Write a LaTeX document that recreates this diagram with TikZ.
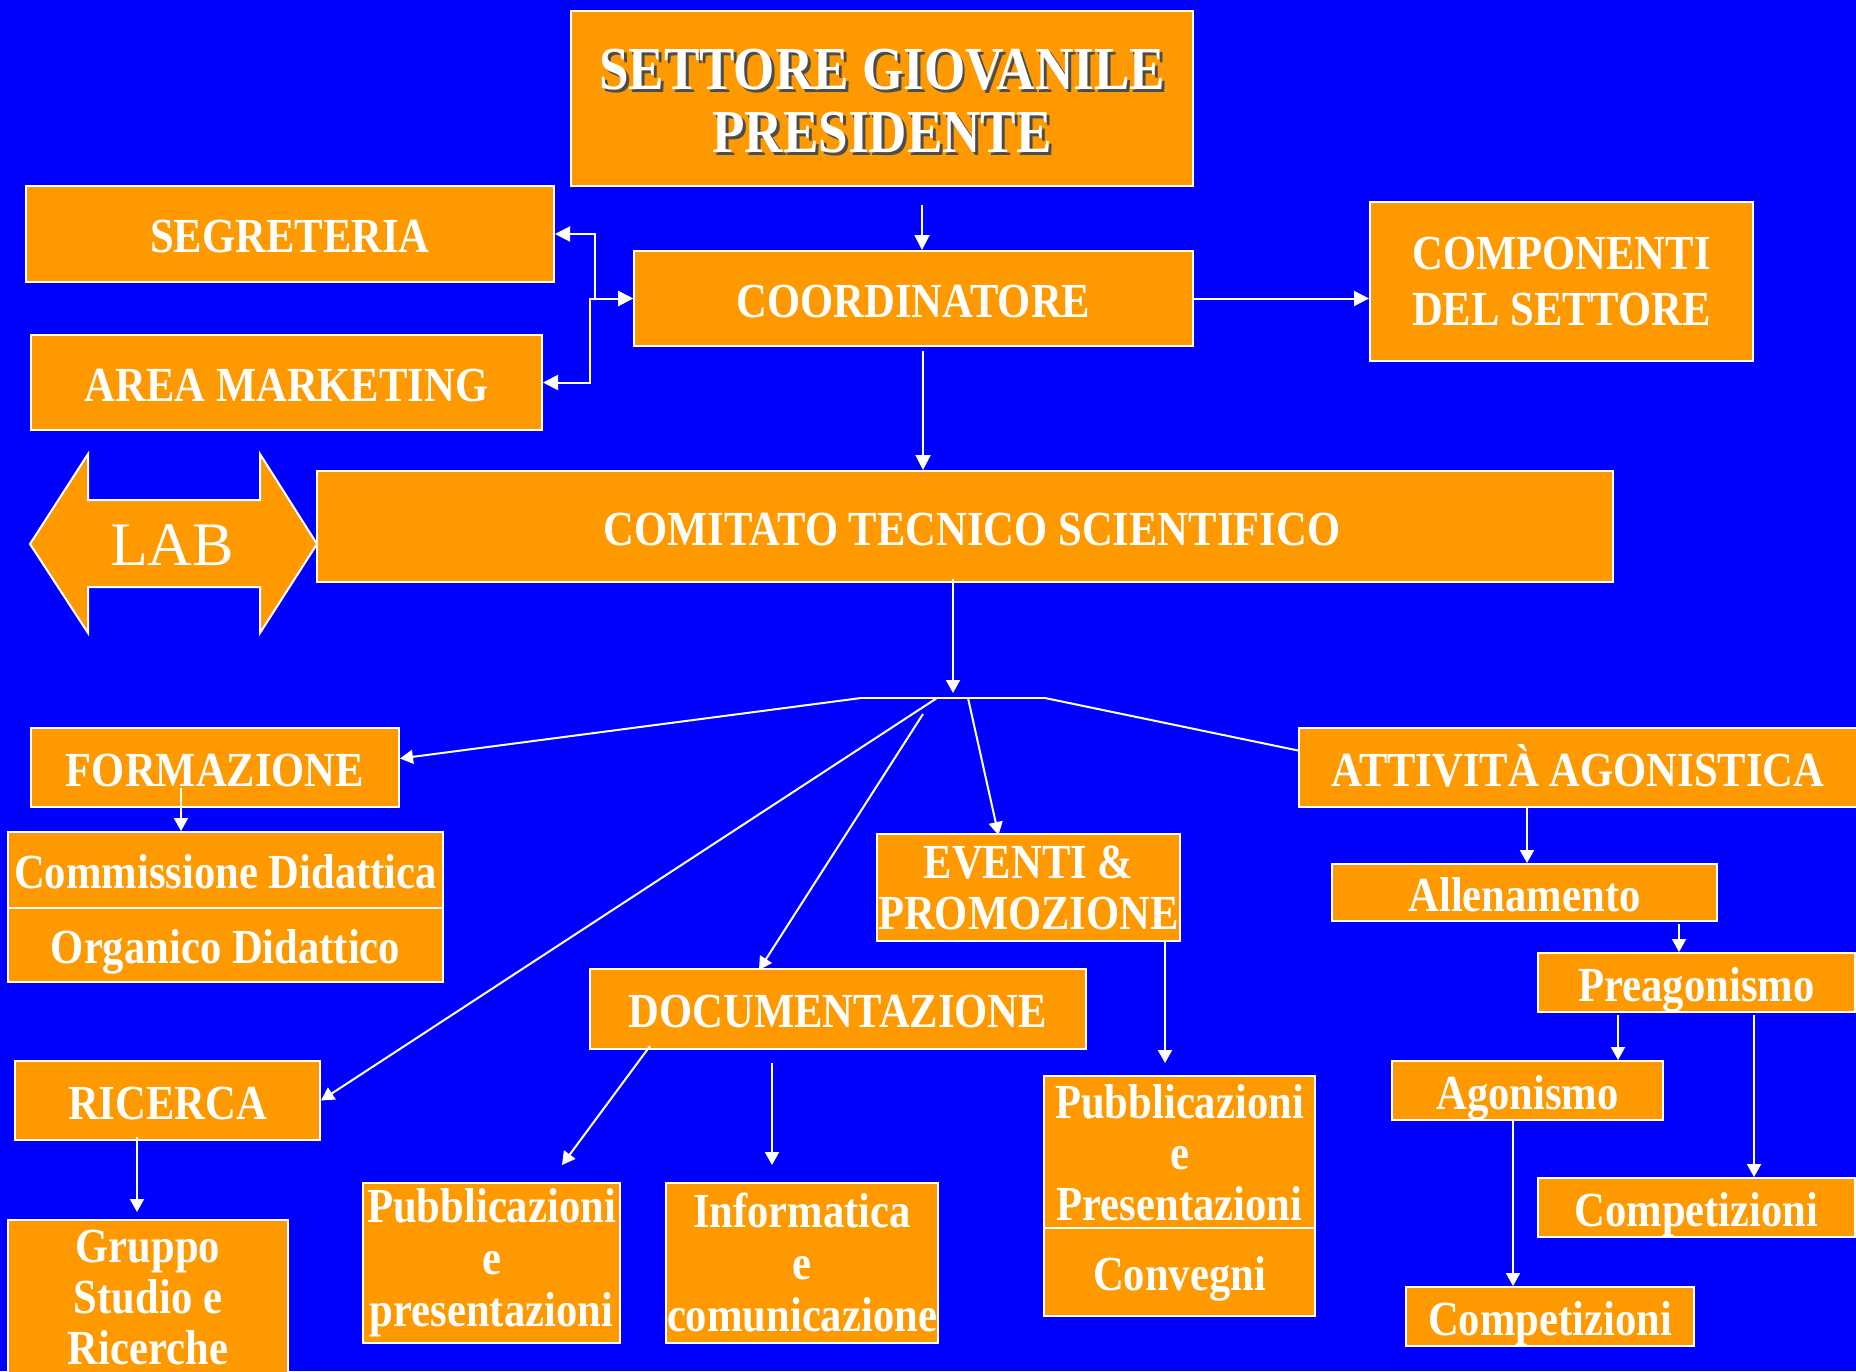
\documentclass[tikz,border=0pt]{standalone}
\usepackage{fontspec}
\setmainfont{Liberation Serif}
\newfontfamily\cf{Liberation Serif}[FakeStretch=0.87]
\usetikzlibrary{arrows.meta,calc}
\definecolor{bgblue}{HTML}{0000FF}
\definecolor{org}{HTML}{FF9900}
\begin{document}
\begin{tikzpicture}[x=0.5pt,y=-0.5pt,
  box/.style={draw=white, fill=org, line width=1pt, text=white, align=center, inner sep=0pt,
    font=\cf\bfseries\fontsize{24.5}{25.5}\selectfont},
  one/.style={text height=21pt, text depth=2.4pt},
  conn/.style={draw=white, line width=1pt},
  arr/.style={conn, -{Triangle[length=6.5pt,width=7pt]}},
  bigarr/.style={conn, -{Triangle[length=7.5pt,width=7.5pt]}},
  arrtwo/.style={conn, {Triangle[length=7.5pt,width=7.5pt]}-{Triangle[length=7.5pt,width=7.5pt]}}
]
\fill[bgblue] (0,0) rectangle (1856,1371);
\useasboundingbox (0,0) rectangle (1856,1371);
\clip (0,0) rectangle (1856,1371);

% top boxes
\node[box, minimum width=311pt, minimum height=87.5pt] (settore) at (882,98.5) {};
\node[text=black!70, align=center, inner sep=0pt, font=\cf\bfseries\fontsize{30.5}{31.5}\selectfont] (settoreshadow) at (885,104.5) {SETTORE GIOVANILE\\PRESIDENTE};
\node[text=white, align=center, inner sep=0pt, font=\cf\bfseries\fontsize{30.5}{31.5}\selectfont] (settoretxt) at (882,101.5) {SETTORE GIOVANILE\\PRESIDENTE};
\node[box, one, minimum width=264pt, minimum height=48pt] (seg) at (290,234) {SEGRETERIA};
\node[box, one, minimum width=279.5pt, minimum height=47.5pt] (coord) at (913.5,298.5) {COORDINATORE};
\node[box, minimum width=191.5pt, minimum height=79.5pt, font=\cf\bfseries\fontsize{24.5}{28}\selectfont] (comp) at (1561.5,281.5) {COMPONENTI\\DEL SETTORE};
\node[box, one, minimum width=255.5pt, minimum height=47.5pt] (area) at (286.5,382.5) {AREA MARKETING};
\node[box, one, minimum width=648pt, minimum height=55.5pt] (comitato) at (965,526.5) {\hspace*{7pt}COMITATO TECNICO SCIENTIFICO};

% LAB double arrow
\draw[fill=org, draw=white, line width=1pt] (30,544) -- (88,454) -- (88,500) -- (260,500) -- (260,454) -- (317,544) -- (260,633) -- (260,587) -- (88,587) -- (88,633) -- cycle;
\node[text=white, inner sep=0pt, font=\fontsize{31}{31}\selectfont] (lab) at (172,545) {LAB};

% middle level
\node[box, one, minimum width=184pt, minimum height=39.5pt] (form) at (215,767.5) {FORMAZIONE};
\node[box, one, minimum width=217.5pt, minimum height=38pt] (comm) at (225.5,870) {Commissione Didattica};
\node[box, one, minimum width=217.5pt, minimum height=37pt] (orga) at (225.5,945) {Organico Didattico};
\node[box, minimum width=151.5pt, minimum height=53.5pt] (eventi) at (1028.5,887.5) {EVENTI \&\\PROMOZIONE};
\node[box, one, minimum width=248pt, minimum height=40pt] (doc) at (838,1009) {DOCUMENTAZIONE};
\node[box, one, minimum width=152.5pt, minimum height=39.5pt] (ric) at (167.5,1100.5) {RICERCA};
\node[box, minimum width=140pt, minimum height=77pt] (gruppo) at (148,1297) {Gruppo\\Studio e\\Ricerche};
\node[box, minimum width=128.5pt, minimum height=80pt, font=\cf\bfseries\fontsize{24.5}{26}\selectfont] (pubone) at (491.5,1263) {Pubblicazioni\\e\\presentazioni};
\node[box, minimum width=136pt, minimum height=80pt, font=\cf\bfseries\fontsize{24.5}{26}\selectfont] (info) at (802,1263) {Informatica\\e\\comunicazione};
\node[box, minimum width=135.5pt, minimum height=76.5pt] (pubtwo) at (1179.5,1152.5) {Pubblicazioni\\e\\Presentazioni};
\node[box, one, minimum width=135.5pt, minimum height=44pt] (conv) at (1179.5,1272) {Convegni};
\node[box, one, minimum width=279pt, minimum height=39.5pt] (att) at (1578,767.5) {ATTIVITÀ AGONISTICA};
\node[box, one, minimum width=192.5pt, minimum height=28.5pt] (allen) at (1524.5,892.5) {Allenamento};
\node[box, one, minimum width=158.5pt, minimum height=29.5pt] (preag) at (1696.5,982.5) {Preagonismo};
\node[box, one, minimum width=135.5pt, minimum height=29.5pt] (agon) at (1527.5,1090.5) {Agonismo};
\node[box, one, minimum width=158.5pt, minimum height=29.5pt] (compr) at (1696.5,1207.5) {Competizioni};
\node[box, one, minimum width=144pt, minimum height=29.5pt] (compb) at (1550,1316.5) {Competizioni};

% top connectors
\draw[bigarr] ($(settore.south)+(40,18)$) -- ($(coord.north)+(8.5,0)$);
\draw[arrtwo] (seg.east) -- ($(seg.east)+(40,0)$) |- (coord.west);
\draw[arrtwo] (area.east) -- ($(area.east)+(47,0)$) |- (coord.west);
\draw[bigarr] (coord.east) -- (coord.east -| comp.west);
\draw[bigarr] ($(coord.south)+(9.5,4)$) -- ($(comitato.north)+(-42,0)$);

% junction
\coordinate (jl) at (861,698);
\coordinate (jr) at (1045,698);
\coordinate (jric) at (937,698);
\coordinate (jdoc) at (923,714);
\coordinate (jev) at (968,698);
\draw[arr] ($(comitato.south)+(-12,-4)$) -- ($(comitato.south)+(-12,110)$);
\draw[conn] (jl) -- (jr);
\draw[arr] (jl) -- ($(form.east)+(0,-9)$);
\draw[conn] (jr) -- ($(att.west)+(0,-17)$);
\draw[arr] (jric) -- (ric.east);
\draw[arr] (jdoc) -- ($(doc.north)+(-79,2)$);
\draw[arr] (jev) -- ($(eventi.north)+(-30,2)$);

% lower connectors
\draw[arr] ($(form.south)+(-34,-20)$) -- ($(comm.north)+(-44.5,0)$);
\draw[arr] ($(eventi.south)+(136.5,0)$) -- ($(pubtwo.north)+(-14.5,-12)$);
\draw[arr] ($(doc.south)+(-188,-4)$) -- ($(pubone.north)+(70.5,-17)$);
\draw[arr] ($(doc.south)+(-66,13)$) -- ($(info.north)+(-30,-17)$);
\draw[arr] ($(ric.south)+(-30.5,-4)$) -- ($(gruppo.north)+(-11,-7)$);
\draw[arr] ($(att.south)+(-51,-2)$) -- ($(allen.north)+(2.5,0)$);
\draw[arr] ($(allen.south)+(154.5,2)$) -- ($(preag.north)+(-17.5,0)$);
\draw[arr] ($(preag.south)+(-78.5,2)$) -- ($(agon.north)+(90.5,0)$);
\draw[arr] ($(preag.south)+(57.5,2)$) -- ($(compr.north)+(57.5,0)$);
\draw[arr] ($(agon.south)+(-14.5,0)$) -- ($(compb.north)+(-37,0)$);
\end{tikzpicture}
\end{document}
